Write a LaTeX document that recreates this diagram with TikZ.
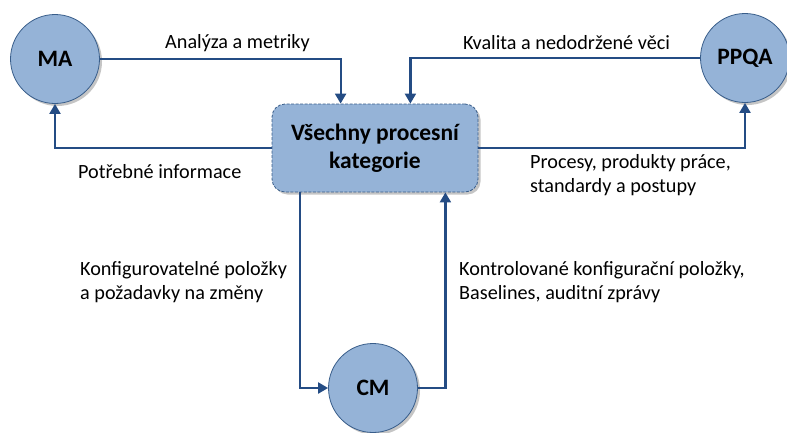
\documentclass[tikz,border=0pt]{standalone}
\usepackage{fontspec}
\setmainfont{Carlito}
\usetikzlibrary{arrows.meta,shadows}

\definecolor{procfill}{RGB}{149,179,215}
\definecolor{procline}{RGB}{56,93,138}
\definecolor{linkcol}{RGB}{36,76,132}

\tikzset{
  proc/.style={circle,draw=procline,fill=procfill,line width=0.8pt,minimum size=89,inner sep=0,
    font=\fontsize{23.5}{28}\selectfont\bfseries,
    drop shadow={shadow xshift=2.5pt,shadow yshift=-2.5pt,fill=black!45}},
  allbox/.style={rectangle,rounded corners=13,draw=procline,fill=procfill,line width=0.8pt,
    dash pattern=on 3pt off 1.5pt,minimum width=206,minimum height=88,align=center,inner sep=0,
    font=\fontsize{23.5}{28}\selectfont\bfseries,
    drop shadow={shadow xshift=2.5pt,shadow yshift=-2.5pt,fill=black!45}},
  link/.style={draw=linkcol,line width=2.2pt,-{Triangle[width=11pt,length=10pt]}},
  lbl/.style={anchor=west,align=left,inner sep=0,font=\fontsize{20.2}{24}\selectfont}
}

\begin{document}
\begin{tikzpicture}[x=1pt,y=-1pt]
\useasboundingbox (0,0) rectangle (787,432);
% \draw[help lines] (0,0) grid[step=50] (787,432);
\node[proc] (MA) at (55,59) {MA};
\node[proc] (PPQA) at (745,58) {PPQA};
\node[proc] (CM) at (373,388) {CM};
\node[allbox] (all) at (375,148) {Všechny procesní\\kategorie};
\draw[link] (MA.east) -| ([xshift=69]all.north west);
\draw[link] (PPQA.west) -| ([xshift=-68]all.north east);
\draw[link] (all.west) -| (MA.south);
\draw[link] (all.east) -| (PPQA.south);
\draw[link] ([xshift=28]all.south west) |- (CM.west);
\draw[link] (CM.east) -| ([xshift=-33]all.south east);
\node[lbl] (t1) at (165,43) {Analýza a metriky};
\node[lbl] (t2) at (463,43) {Kvalita a nedodržené věci};
\node[lbl] (t3) at (78,172) {Potřebné informace};
\node[lbl] (t4) at (530,175) {Procesy, produkty práce,\\standardy a postupy};
\node[lbl] (t5) at (80,282) {Konfigurovatelné položky\\a požadavky na změny};
\node[lbl] (t6) at (459,282) {Kontrolované konfigurační položky,\\Baselines, auditní zprávy};
\end{tikzpicture}
\end{document}
